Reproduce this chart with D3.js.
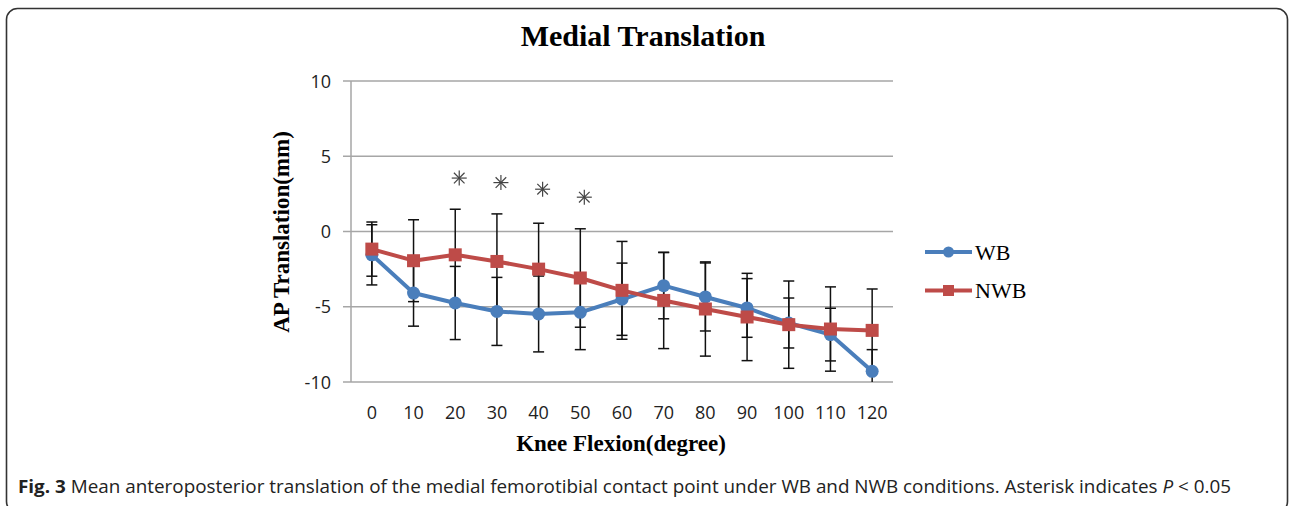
<!DOCTYPE html>
<html>
<head>
<meta charset="utf-8">
<script src="https://cdn.jsdelivr.net/npm/d3@7"></script>
<style>
  html, body { margin: 0; padding: 0; background: #fff; }
  svg { display: block; }
</style>
</head>
<body>
<div id="chart"></div>
<script>
// data
var flexion = ["0", "10", "20", "30", "40", "50", "60", "70", "80", "90", "100", "110", "120"];
var wbMean = [-1.55, -4.09, -4.75, -5.31, -5.48, -5.37, -4.5, -3.6, -4.35, -5.08, -6.08, -6.85, -9.29];
var wbSd = [2.0, 2.2, 2.43, 2.26, 2.52, 2.48, 2.4, 2.2, 2.26, 1.95, 1.66, 1.75, 1.44];
var nwbMean = [-1.17, -1.94, -1.55, -1.99, -2.5, -3.09, -3.91, -4.58, -5.15, -5.68, -6.19, -6.48, -6.57];
var nwbSd = [1.8, 2.72, 3.03, 3.16, 3.05, 3.27, 3.25, 3.2, 3.13, 2.9, 2.9, 2.8, 2.75];
var yTicks = [10, 5, 0, -5, -10];
// asterisks (P < 0.05)
var starCats = ["20", "30", "40", "50"];
var starVals = [3.55, 3.25, 2.81, 2.28];

var W = 1290, H = 506;
var plot = { left: 351, right: 893, top: 81, bottom: 382 };
var blue = "#4A7EBB", red = "#BE4B48";
var serif = "'Liberation Serif', 'Times New Roman', serif";
var sans = "'Open Sans', sans-serif";

var svg = d3.select("#chart").append("svg")
    .attr("width", W)
    .attr("height", H);

// figure frame
svg.append("rect")
    .attr("x", 6.5).attr("y", 8.5)
    .attr("width", 1281).attr("height", 504)
    .attr("rx", 11)
    .attr("fill", "none")
    .attr("stroke", "#333")
    .attr("stroke-width", 1.6);

var x = d3.scaleBand().domain(flexion).range([plot.left, plot.right]);
var cx = function (c) { return x(c) + x.bandwidth() / 2; };
var y = d3.scaleLinear().domain([-10, 10]).range([plot.bottom, plot.top]);

// gridlines (extend left as tick marks)
svg.append("g").selectAll("line")
    .data(yTicks)
    .enter().append("line")
    .attr("x1", plot.left - 8).attr("x2", plot.right)
    .attr("y1", function (d) { return y(d); })
    .attr("y2", function (d) { return y(d); })
    .attr("stroke", "#A6A6A6")
    .attr("stroke-width", 1.5);

svg.append("line")
    .attr("x1", plot.left).attr("x2", plot.left)
    .attr("y1", plot.top).attr("y2", plot.bottom)
    .attr("stroke", "#A6A6A6")
    .attr("stroke-width", 1.5);

// y tick labels
svg.append("g").selectAll("text")
    .data(yTicks)
    .enter().append("text")
    .attr("x", 331)
    .attr("y", function (d) { return y(d) + 6.5; })
    .attr("text-anchor", "end")
    .attr("font-family", sans)
    .attr("font-size", 18)
    .attr("fill", "#222")
    .text(function (d) { return d; });

// x tick labels
svg.append("g").selectAll("text")
    .data(flexion)
    .enter().append("text")
    .attr("x", function (d) { return cx(d); })
    .attr("y", 419)
    .attr("text-anchor", "middle")
    .attr("font-family", sans)
    .attr("font-size", 18)
    .attr("fill", "#222")
    .text(function (d) { return d; });

// titles
svg.append("text")
    .attr("x", 643).attr("y", 46)
    .attr("text-anchor", "middle")
    .attr("font-family", serif)
    .attr("font-weight", "bold")
    .attr("font-size", 30)
    .text("Medial Translation");

svg.append("text")
    .attr("x", 621).attr("y", 451)
    .attr("text-anchor", "middle")
    .attr("font-family", serif)
    .attr("font-weight", "bold")
    .attr("font-size", 23)
    .text("Knee Flexion(degree)");

svg.append("text")
    .attr("transform", "translate(289,232) rotate(-90)")
    .attr("text-anchor", "middle")
    .attr("font-family", serif)
    .attr("font-weight", "bold")
    .attr("font-size", 23)
    .text("AP Translation(mm)");

var series = [
    { name: "WB", mean: wbMean, sd: wbSd, color: blue, shape: "circle" },
    { name: "NWB", mean: nwbMean, sd: nwbSd, color: red, shape: "square" }
];

var plotArea = svg.append("g");
svg.append("clipPath").attr("id", "clip")
    .append("rect")
    .attr("x", plot.left).attr("y", plot.top)
    .attr("width", plot.right - plot.left).attr("height", plot.bottom - plot.top);

// error bars
series.forEach(function (s) {
    var rows = flexion.map(function (c, i) { return { c: c, m: s.mean[i], e: s.sd[i] }; });
    var g = plotArea.append("g").attr("clip-path", "url(#clip)")
        .attr("stroke", "#111").attr("stroke-width", 1.5);
    g.selectAll("line.v").data(rows).enter().append("line")
        .attr("x1", function (d) { return cx(d.c); })
        .attr("x2", function (d) { return cx(d.c); })
        .attr("y1", function (d) { return y(d.m + d.e); })
        .attr("y2", function (d) { return y(d.m - d.e); });
    g.selectAll("line.t").data(rows).enter().append("line")
        .attr("x1", function (d) { return cx(d.c) - 5.5; })
        .attr("x2", function (d) { return cx(d.c) + 5.5; })
        .attr("y1", function (d) { return y(d.m + d.e); })
        .attr("y2", function (d) { return y(d.m + d.e); });
    g.selectAll("line.b").data(rows).enter().append("line")
        .attr("x1", function (d) { return cx(d.c) - 5.5; })
        .attr("x2", function (d) { return cx(d.c) + 5.5; })
        .attr("y1", function (d) { return y(d.m - d.e); })
        .attr("y2", function (d) { return y(d.m - d.e); });
});

// lines and markers
var line = d3.line()
    .x(function (d) { return cx(d.c); })
    .y(function (d) { return y(d.m); });

series.forEach(function (s) {
    var rows = flexion.map(function (c, i) { return { c: c, m: s.mean[i] }; });
    plotArea.append("path")
        .datum(rows)
        .attr("d", line)
        .attr("fill", "none")
        .attr("stroke", s.color)
        .attr("stroke-width", 4)
        .attr("stroke-linejoin", "round");
    if (s.shape == "circle") {
        plotArea.append("g").selectAll("circle").data(rows).enter().append("circle")
            .attr("cx", function (d) { return cx(d.c); })
            .attr("cy", function (d) { return y(d.m); })
            .attr("r", 6.5)
            .attr("fill", s.color);
    } else {
        plotArea.append("g").selectAll("rect").data(rows).enter().append("rect")
            .attr("x", function (d) { return cx(d.c) - 6.5; })
            .attr("y", function (d) { return y(d.m) - 6.5; })
            .attr("width", 13).attr("height", 13)
            .attr("fill", s.color);
    }
});

// asterisks
var star = svg.append("g").attr("stroke", "#444").attr("stroke-width", 1.2);
starCats.forEach(function (c, i) {
    var sx = cx(c) + 4, sy = y(starVals[i]), r = 7.5;
    for (var k = 0; k < 4; k++) {
        var a = k * Math.PI / 4;
        star.append("line")
            .attr("x1", sx - r * Math.cos(a)).attr("y1", sy - r * Math.sin(a))
            .attr("x2", sx + r * Math.cos(a)).attr("y2", sy + r * Math.sin(a));
    }
});

// legend
var legend = svg.append("g");
series.forEach(function (s, i) {
    var ly = 252 + i * 38.5;
    legend.append("line")
        .attr("x1", 925).attr("x2", 972)
        .attr("y1", ly).attr("y2", ly)
        .attr("stroke", s.color).attr("stroke-width", 4);
    if (s.shape == "circle") {
        legend.append("circle").attr("cx", 948.5).attr("cy", ly).attr("r", 5.5).attr("fill", s.color);
    } else {
        legend.append("rect").attr("x", 943).attr("y", ly - 5.5).attr("width", 11).attr("height", 11).attr("fill", s.color);
    }
    legend.append("text")
        .attr("x", 975).attr("y", ly + 7.5)
        .attr("font-family", serif)
        .attr("font-size", 22)
        .text(s.name);
});

// caption
var cap = svg.append("text")
    .attr("x", 18).attr("y", 493)
    .attr("font-family", sans)
    .attr("font-size", 18)
    .attr("fill", "#222")
    .attr("textLength", 1213)
    .attr("lengthAdjust", "spacingAndGlyphs");
cap.append("tspan").attr("font-weight", "bold").text("Fig. 3");
cap.append("tspan").text(" Mean anteroposterior translation of the medial femorotibial contact point under WB and NWB conditions. Asterisk indicates ");
cap.append("tspan").attr("font-style", "italic").text("P");
cap.append("tspan").text(" < 0.05");
</script>
</body>
</html>
